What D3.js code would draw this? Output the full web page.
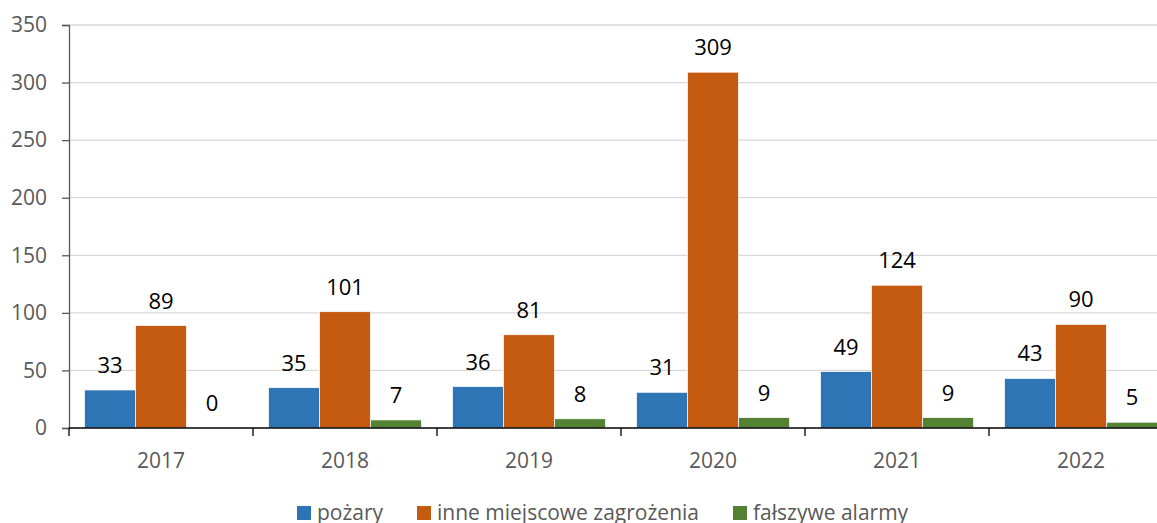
<!DOCTYPE html>
<html>
<head>
<meta charset="utf-8">
<script src="https://cdn.jsdelivr.net/npm/d3@7"></script>
<style>
  body { margin: 0; background: #fff; }
  svg text { font-family: "Open Sans", sans-serif; }
</style>
</head>
<body>
<div id="chart"></div>
<script>
// values
var years = ["2017", "2018", "2019", "2020", "2021", "2022"];
var seriesNames = ["pożary", "inne miejscowe zagrożenia", "fałszywe alarmy"];
var pozary = [33, 35, 36, 31, 49, 43];
var inne = [89, 101, 81, 309, 124, 90];
var falszywe = [0, 7, 8, 9, 9, 5];
var colors = ["#2E75B6", "#C55A11", "#548235"];
var yTicks = [0, 50, 100, 150, 200, 250, 300, 350];

var width = 1157, height = 523;
var margin = {top: 25, right: -16, bottom: 95, left: 69};
var w = width - margin.left - margin.right,
    h = height - margin.top - margin.bottom;

var svg = d3.select("#chart").append("svg")
    .attr("width", width)
    .attr("height", height);

var g = svg.append("g")
    .attr("transform", "translate(" + margin.left + "," + margin.top + ")");

var X = d3.scaleBand().domain(years).range([0, w]).paddingInner(0).paddingOuter(0);
var Y = d3.scaleLinear().domain([0, 350]).range([h, 0]);
var groupPad = 15.5;
var X1 = d3.scaleBand().domain(d3.range(3))
    .range([groupPad, X.bandwidth() - groupPad]);

// gridlines
g.selectAll(".grid").data(yTicks.slice(1)).enter().append("line")
    .attr("x1", 0).attr("x2", w)
    .attr("y1", function(d) { return Y(d); })
    .attr("y2", function(d) { return Y(d); })
    .style("stroke", "#d9d9d9").style("stroke-width", 1.3);

// bars
var allSeries = [pozary, inne, falszywe];
var rows = [];
years.forEach(function(yr, i) {
    allSeries.forEach(function(s, k) {
        rows.push({year: yr, k: k, v: s[i]});
    });
});

g.selectAll(".bar").data(rows).enter().append("rect")
    .attr("x", function(d) { return X(d.year) + X1(d.k); })
    .attr("y", function(d) { return Y(d.v); })
    .attr("width", X1.bandwidth())
    .attr("height", function(d) { return h - Y(d.v); })
    .style("fill", function(d) { return colors[d.k]; })
    .style("stroke", "#ffffff").style("stroke-width", 0.7);

// value labels
g.selectAll(".lab").data(rows).enter().append("text")
    .attr("x", function(d) { return X(d.year) + X1(d.k) + X1.bandwidth() / 2; })
    .attr("y", function(d) { return Y(d.v) - 17; })
    .attr("text-anchor", "middle")
    .style("font-size", "22px").style("fill", "#000")
    .text(function(d) { return d.v; });

// y axis
var yAxis = d3.axisLeft(Y).tickValues(yTicks).tickSize(7).tickPadding(15);
var ya = g.append("g").call(yAxis);
ya.select(".domain").style("stroke", "#595959").style("stroke-width", 1.3);
ya.selectAll(".tick line").style("stroke", "#595959").style("stroke-width", 1.3);
ya.selectAll(".tick text").style("font-size", "21px").style("fill", "#595959")
    .style("font-family", "'Open Sans', sans-serif");

// x axis
var xa = g.append("g").attr("transform", "translate(0," + h + ")");
xa.append("line").attr("x1", 0).attr("x2", w).attr("y1", 0).attr("y2", 0)
    .style("stroke", "#000").style("stroke-width", 1.5);
var bounds = years.map(function(y) { return X(y); }).concat([w]);
xa.selectAll(".xt").data(bounds).enter().append("line")
    .attr("x1", function(d) { return d; }).attr("x2", function(d) { return d; })
    .attr("y1", 0).attr("y2", 8)
    .style("stroke", "#000").style("stroke-width", 1.3);
xa.selectAll(".xl").data(years).enter().append("text")
    .attr("x", function(d) { return X(d) + X.bandwidth() / 2; })
    .attr("y", 40)
    .attr("text-anchor", "middle")
    .style("font-size", "21px").style("fill", "#595959")
    .text(function(d) { return d; });

// legend
var legX = [297, 417, 733];
var leg = svg.selectAll(".leg").data(seriesNames).enter().append("g")
    .attr("transform", function(d, i) { return "translate(" + legX[i] + ",506)"; });
leg.append("rect").attr("x", 0).attr("y", 0).attr("width", 14).attr("height", 14)
    .style("fill", function(d, i) { return colors[i]; });
leg.append("text").attr("x", 20).attr("y", 14)
    .style("font-size", "21px").style("fill", "#595959")
    .text(function(d) { return d; });
</script>
</body>
</html>
